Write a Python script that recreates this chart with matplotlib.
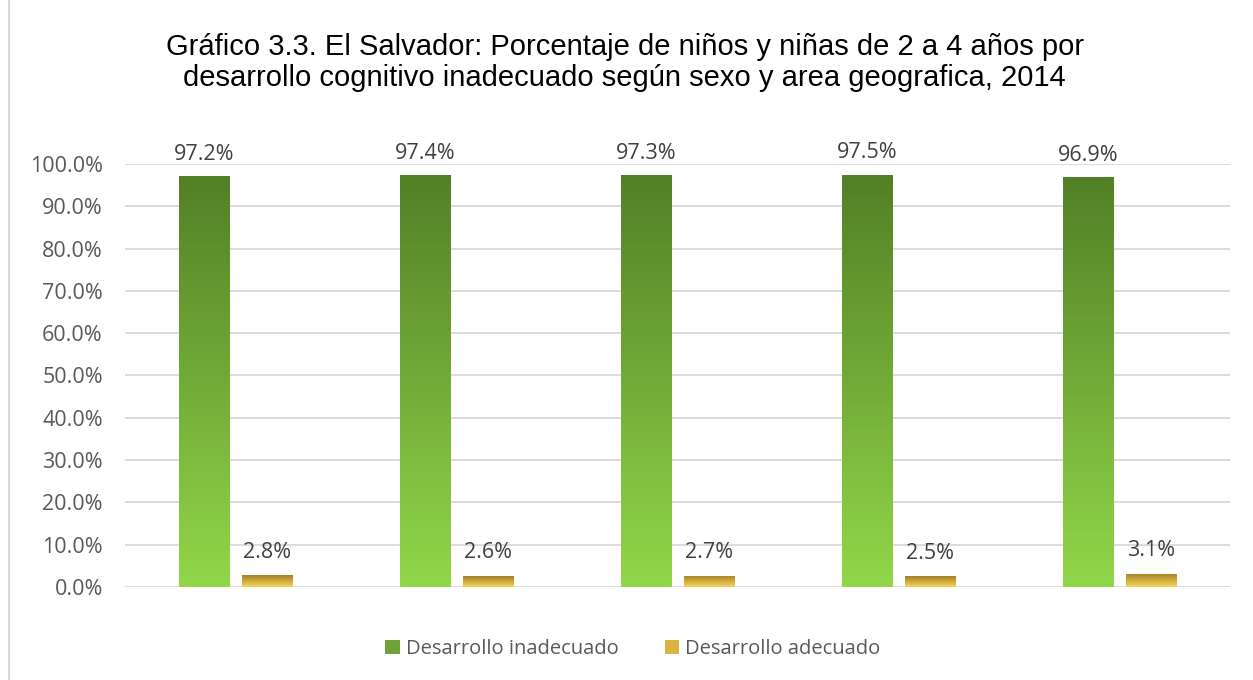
import numpy as np
import matplotlib.pyplot as plt
from matplotlib.colors import LinearSegmentedColormap
from matplotlib.patches import Rectangle, Patch

categorias = ["", "", "", "", ""]
inadecuado = [97.2, 97.4, 97.3, 97.5, 96.9]
adecuado = [2.8, 2.6, 2.7, 2.5, 3.1]
yticks = [0, 10, 20, 30, 40, 50, 60, 70, 80, 90, 100]

titulo = ("Gráfico 3.3. El Salvador: Porcentaje de niños y niñas de 2 a 4 años por\n"
          "desarrollo cognitivo inadecuado según sexo y area geografica, 2014")

verde = LinearSegmentedColormap.from_list("verde", ["#92D74A", "#528026"])
oro = LinearSegmentedColormap.from_list("oro", ["#F7D65A", "#A47F25"])

fig = plt.figure(figsize=(12.53, 6.8), dpi=100)
ax = fig.add_axes([0.0998, 0.1368, 0.8818, 0.622])

# borde del área del gráfico
fig.add_artist(Rectangle((9 / 1253, -0.01), 1.2, 1.2, transform=fig.transFigure,
                         fill=False, edgecolor="#D9D9D9", linewidth=1.5))

x = np.arange(len(categorias))
w = 0.23
off = 0.1425

b1 = ax.bar(x - off, inadecuado, w, color="none", edgecolor="none")
b2 = ax.bar(x + off, adecuado, w, color="none", edgecolor="none")

grad = np.linspace(0, 1, 256).reshape(-1, 1)
for barras, cmap in [(b1, verde), (b2, oro)]:
    for r in barras:
        x0, y0 = r.get_x(), r.get_y()
        im = ax.imshow(grad, cmap=cmap, aspect="auto", origin="lower",
                       extent=[x0, x0 + r.get_width(), y0, y0 + r.get_height()],
                       zorder=2)
        im.set_clip_path(r)

fuente = "Open Sans"
tam = 15.5
for r, v in zip(b1, inadecuado):
    ax.annotate(f"{v:.1f}%", (r.get_x() + r.get_width() / 2, v), xytext=(0, 8),
                textcoords="offset points", ha="center", va="bottom",
                fontsize=tam, color="#404040", family=fuente)
for r, v in zip(b2, adecuado):
    ax.annotate(f"{v:.1f}%", (r.get_x() + r.get_width() / 2, v), xytext=(0, 9),
                textcoords="offset points", ha="center", va="bottom",
                fontsize=tam, color="#404040", family=fuente)

ax.set_xlim(-0.5, len(categorias) - 0.5)
ax.set_ylim(0, 100)
ax.set_yticks(yticks)
ax.set_yticklabels([f"{t:.1f}%" for t in yticks], family=fuente, fontsize=tam, color="#595959")
ax.set_xticks([])
ax.tick_params(axis="y", length=0, pad=16)
ax.grid(axis="y", color="#D9D9D9", linewidth=1.3)
ax.set_axisbelow(True)
for s in ax.spines.values():
    s.set_visible(False)

fig.text(0.4985, 0.908, titulo, ha="center", va="center", fontsize=21,
         family="Liberation Sans", color="#000000", linespacing=1.13)

handles = [Patch(facecolor="#6FA33A", label="Desarrollo inadecuado"),
           Patch(facecolor="#D9B443", label="Desarrollo adecuado")]
leg = fig.legend(handles=handles, loc="center", bbox_to_anchor=(0.505, 0.045), ncol=2,
                 frameon=False, prop={"family": fuente, "size": 14.5},
                 handlelength=0.7, handleheight=0.7, columnspacing=2.3, handletextpad=0.3)
for t in leg.get_texts():
    t.set_color("#595959")

fig.savefig("out.png", dpi=100)
